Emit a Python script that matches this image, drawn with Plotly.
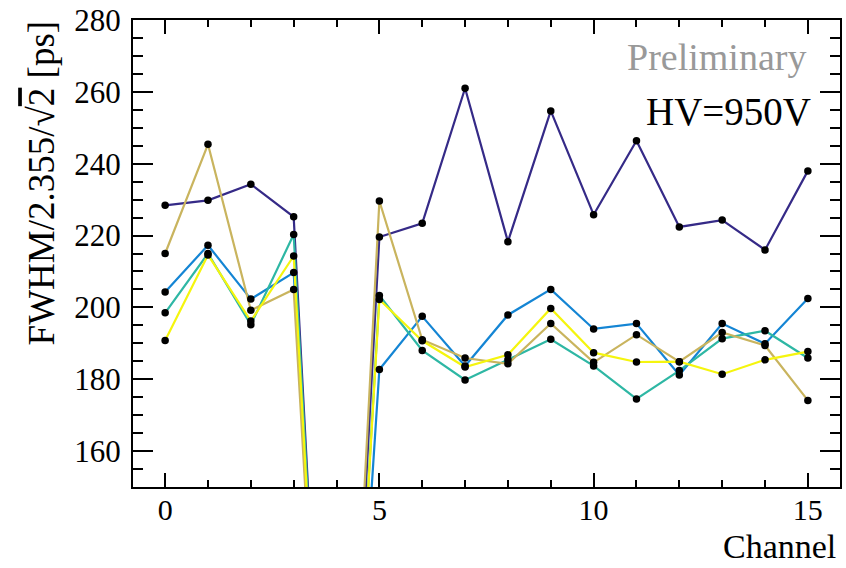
import plotly.graph_objects as go

channels = list(range(16))
series_names = ["S1", "S2", "S3", "S4", "S5"]
purple = [228.4, 229.8, 234.3, 225.2, 0, 219.6, 223.4, 261.0, 218.3, 254.7, 225.8, 246.4, 222.4, 224.3, 216.0, 238.0]
blue = [204.3, 217.3, 202.3, 209.7, 0, 182.7, 197.5, 183.7, 197.9, 205.0, 194.0, 195.5, 181.2, 195.5, 189.9, 202.5]
teal = [198.5, 215.0, 195.2, 220.3, 0, 203.3, 188.0, 179.8, 185.4, 191.1, 183.7, 174.5, 182.4, 191.3, 193.5, 185.9]
tan = [215.0, 245.4, 199.2, 205.0, 0, 229.6, 191.0, 185.9, 184.3, 195.5, 184.7, 192.4, 184.9, 193.0, 189.4, 174.1]
yellow = [190.8, 214.6, 196.2, 214.3, 0, 202.2, 190.7, 183.4, 186.8, 199.7, 187.4, 184.8, 184.9, 181.4, 185.4, 187.7]
colors = ["#352a87", "#1485d4", "#2eb7a4", "#c9b45e", "#f5f50e"]
values = [purple, blue, teal, tan, yellow]

fig = go.Figure()
for name, vals, col in zip(series_names, values, colors):
    fig.add_trace(go.Scatter(x=channels, y=vals, mode="lines", name=name,
                             line=dict(color=col, width=2.2), showlegend=False,
                             cliponaxis=True))
for name, vals in zip(series_names, values):
    fig.add_trace(go.Scatter(x=channels, y=vals, mode="markers", showlegend=False,
                             marker=dict(color="black", size=7.5), cliponaxis=True))

font = "Liberation Serif"
axis_common = dict(ticks="inside", tickwidth=2, tickcolor="black", mirror="allticks",
                   showline=True, linecolor="black", linewidth=2, showgrid=False,
                   zeroline=False, automargin=False)
fig.update_layout(
    width=846, height=568,
    margin=dict(l=133, r=6, t=20, b=81, pad=0),
    paper_bgcolor="white", plot_bgcolor="white",
    font=dict(family=font, size=31, color="black"),
    xaxis=dict(range=[-0.75, 15.75], tickvals=[0, 5, 10, 15], ticklen=14,
               minor=dict(dtick=1, tick0=0, ticks="inside", ticklen=7, tickcolor="black", tickwidth=2),
               tickfont=dict(size=30, family=font), ticklabelstandoff=-5, **axis_common),
    yaxis=dict(range=[150, 280], dtick=20, ticklen=20,
               minor=dict(dtick=5, ticks="inside", ticklen=10, tickcolor="black", tickwidth=2),
               tickfont=dict(size=31, family=font), ticklabelstandoff=4, **axis_common),
    annotations=[
        dict(text="Preliminary", x=0.9547, y=0.921, xref="paper", yref="paper", showarrow=False,
             font=dict(size=38, color="#999999", family=font), xanchor="right", yanchor="middle"),
        dict(text="HV=950V", x=0.962, y=0.805, xref="paper", yref="paper", showarrow=False,
             font=dict(size=39, family=font), xanchor="right", yanchor="middle"),
        dict(text="Channel", x=0.997, y=-0.127, xref="paper", yref="paper", showarrow=False,
             font=dict(size=34, family=font), xanchor="right", yanchor="middle"),
        dict(text="FWHM/2.355/√<span style='text-decoration:overline'>2</span> [ps]",
             x=-0.129, y=1.004, xref="paper", yref="paper", showarrow=False, textangle=-90,
             font=dict(size=37, family=font), xanchor="center", yanchor="top"),
    ],
)
fig.write_html("out.html", config={"displayModeBar": False},
               post_script="document.body.style.margin='0';document.body.style.padding='0';")
